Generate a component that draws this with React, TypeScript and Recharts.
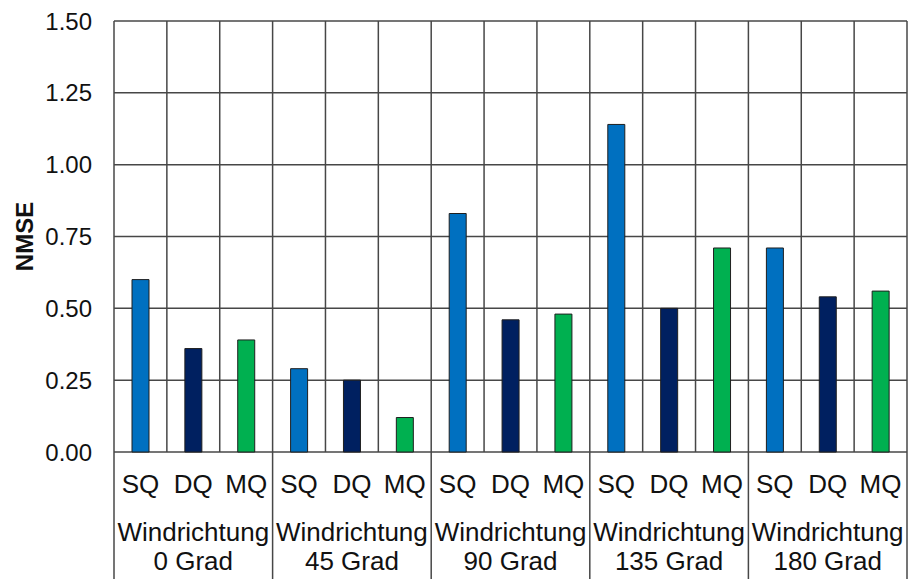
import { BarChart, Bar, Cell, XAxis, YAxis, CartesianGrid, Label } from 'recharts';

const groupLabels = ['0 Grad', '45 Grad', '90 Grad', '135 Grad', '180 Grad'];
const measures = ['SQ', 'DQ', 'MQ'];
const sqValues = [0.60, 0.29, 0.83, 1.14, 0.71];
const dqValues = [0.36, 0.25, 0.46, 0.50, 0.54];
const mqValues = [0.39, 0.12, 0.48, 0.71, 0.56];
const yTicks = [0, 0.25, 0.5, 0.75, 1.0, 1.25, 1.5];

const colors: Record<string, string> = { SQ: '#0070c0', DQ: '#002060', MQ: '#00b050' };

const CHART_W = 911;
const CHART_H = 579;
const MARGIN = { top: 21, right: 4, bottom: 0, left: 0 };
const Y_AXIS_W = 114;
const X_AXIS_H = 127;
const PLOT_W = CHART_W - MARGIN.left - MARGIN.right - Y_AXIS_W;
const BAND = PLOT_W / (groupLabels.length * measures.length);
const FONT = '"Liberation Sans", Arial, sans-serif';
const GRID = '#474747';

const data = groupLabels.flatMap((g, gi) => [
    { key: `${g}-SQ`, measure: 'SQ', group: g, value: sqValues[gi] },
    { key: `${g}-DQ`, measure: 'DQ', group: g, value: dqValues[gi] },
    { key: `${g}-MQ`, measure: 'MQ', group: g, value: mqValues[gi] },
]);

function CategoryTick(props: any) {
    const { x, y, payload } = props;
    const idx = payload.index;
    const row = data[idx];
    const left = x - BAND / 2;
    const right = x + BAND / 2;
    return (
        <g>
            <text x={x} y={y + 41} textAnchor="middle" fontSize={26} fontFamily={FONT} fill="#111">
                {row.measure}
            </text>
            {idx % 3 === 0 && (
                <line x1={left} y1={y} x2={left} y2={y + X_AXIS_H} stroke={GRID} strokeWidth={1.5} />
            )}
            {idx === data.length - 1 && (
                <line x1={right} y1={y} x2={right} y2={y + X_AXIS_H} stroke={GRID} strokeWidth={1.5} />
            )}
            {idx % 3 === 1 && (
                <text textAnchor="middle" fontSize={26} fontFamily={FONT} fill="#111">
                    <tspan x={x} y={y + 89}>Windrichtung</tspan>
                    <tspan x={x} y={y + 118}>{row.group}</tspan>
                </text>
            )}
        </g>
    );
}

function App() {
    return (
        <div style={{ position: 'absolute', left: 0, top: 0, background: '#fff' }}>
            <BarChart width={CHART_W} height={CHART_H} data={data} margin={MARGIN}>
                <CartesianGrid
                    stroke={GRID}
                    strokeWidth={1.5}
                    verticalCoordinatesGenerator={({ offset }: any) =>
                        Array.from({ length: data.length + 1 }, (_, i) => offset.left + (i * offset.width) / data.length)
                    }
                />
                <XAxis
                    dataKey="key"
                    interval={0}
                    height={X_AXIS_H}
                    tickLine={false}
                    axisLine={false}
                    tickSize={0}
                    tickMargin={0}
                    tick={<CategoryTick />}
                />
                <YAxis
                    width={Y_AXIS_W}
                    domain={[0, 1.5]}
                    ticks={yTicks}
                    tickFormatter={(v: number) => v.toFixed(2)}
                    tickLine={false}
                    axisLine={false}
                    tickSize={0}
                    tickMargin={22}
                    tick={{ fontSize: 24, fontFamily: FONT, fill: '#111' }}
                >
                    <Label
                        content={({ viewBox }: any) => {
                            const cy = viewBox.y + viewBox.height / 2;
                            return (
                                <text
                                    x={33}
                                    y={cy}
                                    transform={`rotate(-90, 33, ${cy})`}
                                    textAnchor="middle"
                                    fontSize={24}
                                    fontWeight="bold"
                                    fontFamily={FONT}
                                    fill="#111"
                                >
                                    NMSE
                                </text>
                            );
                        }}
                    />
                </YAxis>
                <Bar dataKey="value" barSize={17} stroke="#1f1f1f" strokeWidth={1} isAnimationActive={false}>
                    {data.map((d) => (
                        <Cell key={d.key} fill={colors[d.measure]} />
                    ))}
                </Bar>
            </BarChart>
        </div>
    );
}

export default App;
